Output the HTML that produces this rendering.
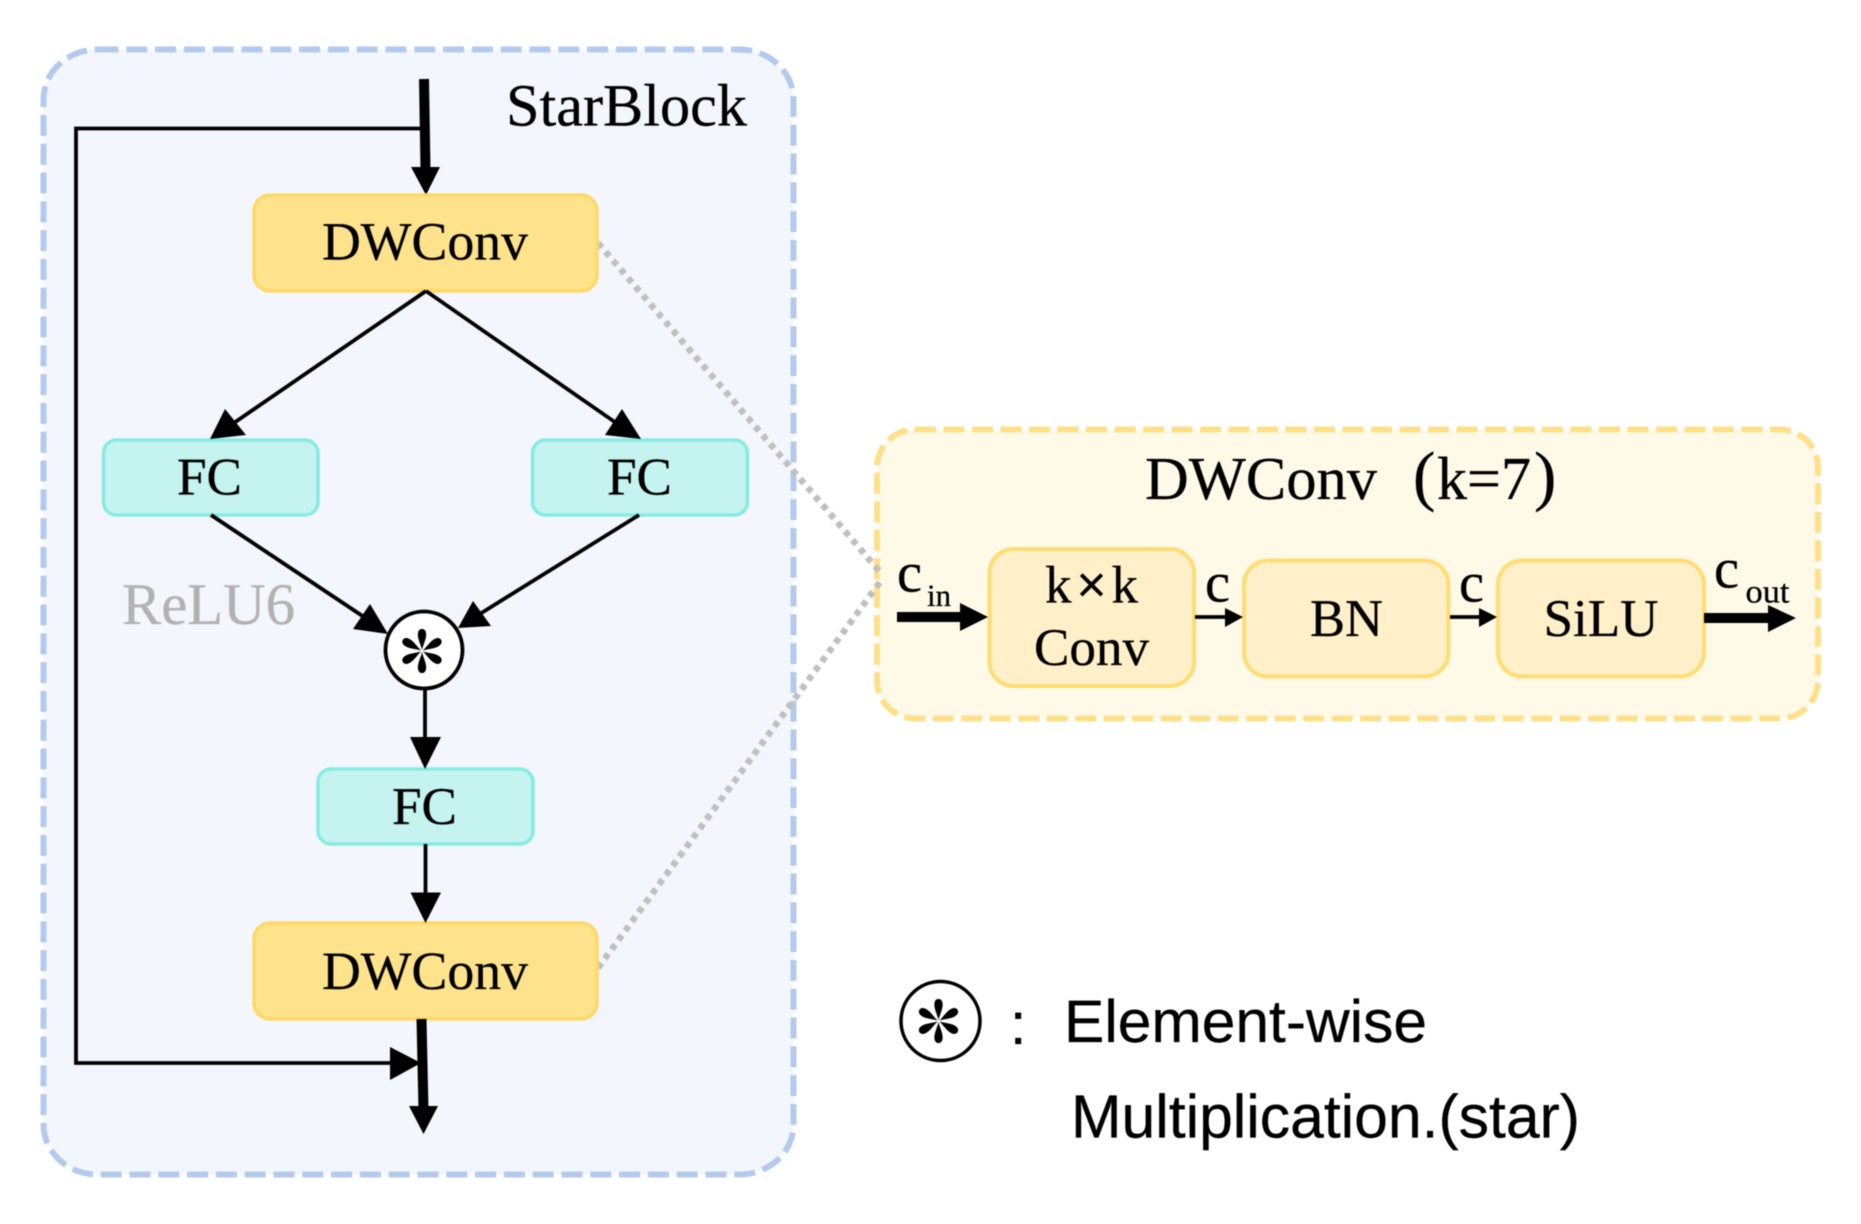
<!DOCTYPE html>
<html>
<head>
<meta charset="utf-8">
<style>
html,body{margin:0;padding:0;background:#fff;}
svg{display:block;filter:blur(0.45px);}
text{font-family:"Liberation Serif",serif;fill:#000;text-rendering:geometricPrecision;stroke:#000;stroke-width:0.3px;}
.s{font-family:"Liberation Sans",sans-serif;}
</style>
</head>
<body>
<svg width="1861" height="1224" viewBox="0 0 1861 1224" xmlns="http://www.w3.org/2000/svg">
<defs>
<g id="star" fill="#000">
<path id="petal" d="M0,-1 C-1,-6 -5,-13 -4,-18 C-3.4,-23.5 3.4,-23.5 4,-18 C5,-13 1,-6 0,-1 Z"/>
<path d="M0,-1 C-1,-6 -5,-13 -4,-18 C-3.4,-23.5 3.4,-23.5 4,-18 C5,-13 1,-6 0,-1 Z" transform="rotate(60)"/>
<path d="M0,-1 C-1,-6 -5,-13 -4,-18 C-3.4,-23.5 3.4,-23.5 4,-18 C5,-13 1,-6 0,-1 Z" transform="rotate(120)"/>
<path d="M0,-1 C-1,-6 -5,-13 -4,-18 C-3.4,-23.5 3.4,-23.5 4,-18 C5,-13 1,-6 0,-1 Z" transform="rotate(180)"/>
<path d="M0,-1 C-1,-6 -5,-13 -4,-18 C-3.4,-23.5 3.4,-23.5 4,-18 C5,-13 1,-6 0,-1 Z" transform="rotate(240)"/>
<path d="M0,-1 C-1,-6 -5,-13 -4,-18 C-3.4,-23.5 3.4,-23.5 4,-18 C5,-13 1,-6 0,-1 Z" transform="rotate(300)"/>
</g>
</defs>
<rect width="1861" height="1224" fill="#fff"/>

<!-- containers -->
<rect x="43.5" y="49.5" width="750" height="1125" rx="54" ry="50" fill="#f3f7fd" stroke="#b4caed" stroke-width="6" stroke-dasharray="21 7.8"/>
<rect x="877" y="429.5" width="941" height="289" rx="38" ry="38" fill="#fff9e8" stroke="#ffe08a" stroke-width="6" stroke-dasharray="21 7.5"/>

<!-- dotted connectors -->
<line x1="598" y1="243" x2="880" y2="572" stroke="#c0c0c0" stroke-width="6.5" stroke-dasharray="6 5.5"/>
<line x1="598" y1="968" x2="880" y2="582" stroke="#c0c0c0" stroke-width="6.5" stroke-dasharray="6 5.5"/>

<!-- skip connection -->
<polyline points="424,128.5 76,128.5 76,1063 395,1063" fill="none" stroke="#000" stroke-width="3.8"/>
<polygon points="390,1047 421,1063 390,1080" fill="#000"/>

<!-- thick in -->
<line x1="424" y1="79" x2="425.5" y2="170" stroke="#000" stroke-width="10"/>
<polygon points="411,167 440,167 426,195" fill="#000"/>

<!-- nodes -->
<rect x="254" y="195" width="343" height="96" rx="16" fill="#ffe38c" stroke="#ffd966" stroke-width="3.5"/>
<rect x="254" y="923" width="343" height="96" rx="16" fill="#ffe38c" stroke="#ffd966" stroke-width="3.5"/>
<rect x="103.5" y="440" width="214.5" height="75" rx="13" fill="#c5f3ef" stroke="#86ebe4" stroke-width="3.5"/>
<rect x="532.5" y="440" width="215" height="75" rx="13" fill="#c5f3ef" stroke="#86ebe4" stroke-width="3.5"/>
<rect x="318" y="769" width="215" height="75" rx="13" fill="#c5f3ef" stroke="#86ebe4" stroke-width="3.5"/>

<!-- diamond arrows -->
<line x1="426" y1="291" x2="228" y2="427" stroke="#000" stroke-width="3.8"/>
<polygon points="210,439 225,409 246,435" fill="#000"/>
<line x1="426" y1="291" x2="622" y2="427" stroke="#000" stroke-width="3.8"/>
<polygon points="641,439 622,409 605,435" fill="#000"/>
<line x1="211" y1="515" x2="370" y2="621" stroke="#000" stroke-width="3.8"/>
<polygon points="388,634 370,604 353,629" fill="#000"/>
<line x1="639" y1="515" x2="475" y2="617" stroke="#000" stroke-width="3.8"/>
<polygon points="458,628 473,601 491,626" fill="#000"/>

<!-- star node -->
<circle cx="424" cy="650" r="38.5" fill="#fff" stroke="#000" stroke-width="3.8"/>
<use href="#star" x="422" y="651"/>

<!-- vertical arrows -->
<line x1="425" y1="689" x2="425" y2="740" stroke="#000" stroke-width="3.8"/>
<polygon points="410,737 441,737 425,769" fill="#000"/>
<line x1="425.5" y1="844" x2="425.5" y2="895" stroke="#000" stroke-width="3.8"/>
<polygon points="410.5,892.5 441,892.5 425.5,923" fill="#000"/>
<line x1="421.5" y1="1019" x2="423.5" y2="1110" stroke="#000" stroke-width="10"/>
<polygon points="409,1106 438,1106 423.5,1134" fill="#000"/>

<!-- left labels -->
<text x="506" y="125.5" font-size="60" textLength="241" lengthAdjust="spacingAndGlyphs">StarBlock</text>
<text x="322" y="259.5" font-size="54" textLength="206" lengthAdjust="spacingAndGlyphs">DWConv</text>
<text x="322" y="989" font-size="54" textLength="206" lengthAdjust="spacingAndGlyphs">DWConv</text>
<text x="177" y="494.5" font-size="53" textLength="65" lengthAdjust="spacingAndGlyphs">FC</text>
<text x="607" y="494.5" font-size="53" textLength="65" lengthAdjust="spacingAndGlyphs">FC</text>
<text x="392" y="824" font-size="53" textLength="65" lengthAdjust="spacingAndGlyphs">FC</text>
<text x="122" y="624" font-size="59" textLength="173" lengthAdjust="spacingAndGlyphs" style="fill:#b2b2b2;stroke:#b2b2b2">ReLU6</text>

<!-- DWConv detail -->
<rect x="989.5" y="549" width="204.5" height="137" rx="24" fill="#fff0c9" stroke="#ffdd75" stroke-width="4"/>
<rect x="1244" y="560.5" width="204.5" height="116" rx="24" fill="#fff0c9" stroke="#ffdd75" stroke-width="4"/>
<rect x="1498" y="560.5" width="206" height="116" rx="24" fill="#fff0c9" stroke="#ffdd75" stroke-width="4"/>

<text x="1145" y="499" font-size="61" textLength="232" lengthAdjust="spacingAndGlyphs">DWConv</text>
<text x="1413" y="498" font-size="67">(</text>
<text x="1437" y="499" font-size="61" textLength="94" lengthAdjust="spacingAndGlyphs">k=7</text>
<text x="1534" y="498" font-size="67">)</text>

<text x="1045" y="602.5" font-size="53" textLength="93" lengthAdjust="spacing">k<tspan style="stroke-width:1.2px">×</tspan>k</text>
<text x="1034" y="665" font-size="53" textLength="115" lengthAdjust="spacingAndGlyphs">Conv</text>
<text x="1310" y="636" font-size="53" textLength="73" lengthAdjust="spacingAndGlyphs">BN</text>
<text x="1543.5" y="636" font-size="53" textLength="115" lengthAdjust="spacingAndGlyphs">SiLU</text>

<g>
<text x="897" y="591.5" font-size="57" textLength="25" lengthAdjust="spacingAndGlyphs">c</text>
<text x="1205" y="601.5" font-size="57" textLength="25" lengthAdjust="spacingAndGlyphs">c</text>
<text x="1459" y="601.5" font-size="57" textLength="25" lengthAdjust="spacingAndGlyphs">c</text>
<text x="1714" y="587.5" font-size="57" textLength="25" lengthAdjust="spacingAndGlyphs">c</text>
</g>
<text x="927" y="606" font-size="31" textLength="24" lengthAdjust="spacingAndGlyphs">in</text>
<text x="1745.5" y="602.5" font-size="33" textLength="44" lengthAdjust="spacingAndGlyphs">out</text>

<line x1="897" y1="617" x2="962" y2="617" stroke="#000" stroke-width="10"/>
<polygon points="960,603 988,617 960,631" fill="#000"/>
<line x1="1195" y1="617" x2="1228" y2="617" stroke="#000" stroke-width="3.8"/>
<polygon points="1225,608 1243,617 1225,627" fill="#000"/>
<line x1="1450" y1="617" x2="1482" y2="617" stroke="#000" stroke-width="3.8"/>
<polygon points="1479,608 1497,617 1479,627" fill="#000"/>
<line x1="1704" y1="618" x2="1770" y2="618" stroke="#000" stroke-width="10"/>
<polygon points="1768,605 1796,618 1768,632" fill="#000"/>

<!-- legend -->
<circle cx="940.5" cy="1021" r="39.5" fill="#fff" stroke="#000" stroke-width="3.5"/>
<use href="#star" x="938.5" y="1021"/>
<text class="s" x="1010" y="1044" font-size="59">:</text>
<text class="s" x="1064" y="1042" font-size="60" textLength="363" lengthAdjust="spacingAndGlyphs">Element-wise</text>
<text class="s" x="1071" y="1137.5" font-size="61" textLength="509" lengthAdjust="spacingAndGlyphs">Multiplication.(star)</text>
</svg>
</body>
</html>
